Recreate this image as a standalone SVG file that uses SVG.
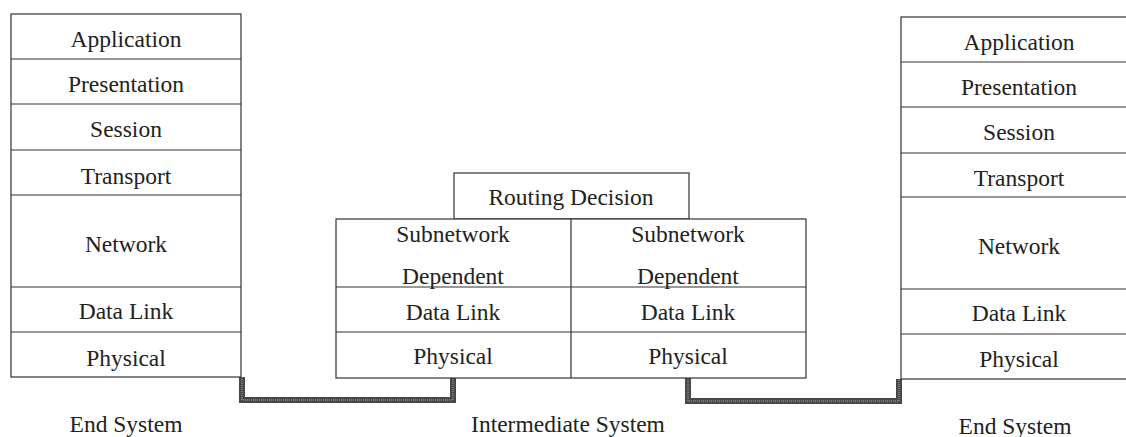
<svg xmlns="http://www.w3.org/2000/svg" width="1126" height="437" viewBox="0 0 1126 437">
  <defs>
    <style>
      .box { fill: #fff; stroke: #333; stroke-width: 1.2; }
      .rule { stroke: #333; stroke-width: 1.2; fill: none; }
      .lbl { font-family: "Liberation Serif", "Times New Roman", "DejaVu Serif", serif; font-size: 23.5px; fill: #222; text-anchor: middle; }
      .wire-edge { fill: none; stroke: #484848; stroke-width: 6; }
      .wire-core { fill: none; stroke: #7a7a7a; stroke-width: 2; stroke-dasharray: 1 1; }
    </style>
  </defs>

  <rect width="1126" height="437" fill="#fff"/>

  <!-- physical links between systems -->
  <g id="connectors">
    <path class="wire-edge" d="M242 377 V400 H453 V377"/>
    <path class="wire-core" d="M242 377 V400 H453 V377"/>
    <path class="wire-edge" d="M688 378 V401 H899 V379"/>
    <path class="wire-core" d="M688 378 V401 H899 V379"/>
  </g>

  <!-- left end system stack -->
  <g id="end-system-left">
    <rect class="box" x="11" y="14" width="230" height="363"/>
    <path class="rule" d="M11 59 H241 M11 104 H241 M11 150 H241 M11 195 H241 M11 287 H241 M11 332 H241"/>
    <text class="lbl" x="126" y="47">Application</text>
    <text class="lbl" x="126" y="92">Presentation</text>
    <text class="lbl" x="126" y="137">Session</text>
    <text class="lbl" x="126" y="184">Transport</text>
    <text class="lbl" x="126" y="252">Network</text>
    <text class="lbl" x="126" y="319">Data Link</text>
    <text class="lbl" x="126" y="366">Physical</text>
    <text class="lbl" x="126" y="432">End System</text>
  </g>

  <!-- intermediate system -->
  <g id="intermediate-system">
    <rect class="box" x="454" y="173" width="235" height="46"/>
    <text class="lbl" x="571" y="205">Routing Decision</text>
    <rect class="box" x="336" y="219" width="470" height="159"/>
    <path class="rule" d="M571 219 V378 M336 287 H806 M336 332 H806"/>
    <text class="lbl" x="453" y="242">Subnetwork</text>
    <text class="lbl" x="453" y="284">Dependent</text>
    <text class="lbl" x="453" y="320">Data Link</text>
    <text class="lbl" x="453" y="364">Physical</text>
    <text class="lbl" x="688" y="242">Subnetwork</text>
    <text class="lbl" x="688" y="284">Dependent</text>
    <text class="lbl" x="688" y="320">Data Link</text>
    <text class="lbl" x="688" y="364">Physical</text>
    <text class="lbl" x="568" y="432">Intermediate System</text>
  </g>

  <!-- right end system stack (runs past the right edge) -->
  <g id="end-system-right">
    <rect class="box" x="901" y="17" width="240" height="362"/>
    <path class="rule" d="M901 62 H1126 M901 107 H1126 M901 153 H1126 M901 197 H1126 M901 289 H1126 M901 334 H1126"/>
    <text class="lbl" x="1019" y="50">Application</text>
    <text class="lbl" x="1019" y="95">Presentation</text>
    <text class="lbl" x="1019" y="140">Session</text>
    <text class="lbl" x="1019" y="186">Transport</text>
    <text class="lbl" x="1019" y="254">Network</text>
    <text class="lbl" x="1019" y="321">Data Link</text>
    <text class="lbl" x="1019" y="367">Physical</text>
    <text class="lbl" x="1015" y="434">End System</text>
  </g>
</svg>
